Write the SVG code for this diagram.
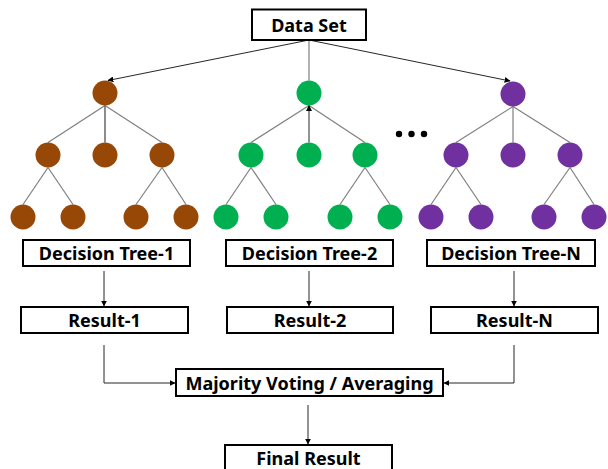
<svg xmlns="http://www.w3.org/2000/svg" width="608" height="469" viewBox="0 0 608 469">
<defs>
<style>
.box{fill:#fff;stroke:#000;stroke-width:2}
.lbl{font-family:"Noto Sans","Liberation Sans",sans-serif;font-weight:bold;font-size:18px;fill:#000;text-anchor:middle}
.edge{stroke:#7f7f7f;stroke-width:1.2;fill:none}
.arr{stroke:#262626;stroke-width:1;fill:none;marker-end:url(#ah)}
.br{fill:#974806}
.gr{fill:#00B050}
.pu{fill:#7030A0}
</style>
<marker id="ah" viewBox="0 0 10 10" refX="9" refY="5" markerUnits="userSpaceOnUse" markerWidth="6" markerHeight="6" orient="auto">
<path d="M0,0 L10,5 L0,10 z" fill="#000"/>
</marker>
</defs>
<rect width="608" height="469" fill="#fff"/>
<g id="connectors">
<line class="edge" x1="105" y1="105.5" x2="48" y2="142.5"/>
<line class="edge" x1="105" y1="105.5" x2="105" y2="142.5" style="stroke:#404040"/>
<line class="edge" x1="105" y1="105.5" x2="162" y2="142.5"/>
<line class="edge" x1="48" y1="167.5" x2="23" y2="204.5"/>
<line class="edge" x1="48" y1="167.5" x2="73" y2="204.5"/>
<line class="edge" x1="162" y1="167.5" x2="136" y2="204.5"/>
<line class="edge" x1="162" y1="167.5" x2="186" y2="204.5"/>
<line class="edge" x1="309" y1="105.5" x2="251" y2="142.5"/>
<line class="edge" x1="309" y1="105.5" x2="365" y2="142.5"/>
<line class="edge" x1="251" y1="167.5" x2="226" y2="204.5"/>
<line class="edge" x1="251" y1="167.5" x2="276" y2="204.5"/>
<line class="edge" x1="365" y1="167.5" x2="340" y2="204.5"/>
<line class="edge" x1="365" y1="167.5" x2="390" y2="204.5"/>
<line class="edge" x1="513" y1="106.5" x2="456" y2="142.5"/>
<line class="edge" x1="513" y1="106.5" x2="513" y2="142.5"/>
<line class="edge" x1="513" y1="106.5" x2="570" y2="142.5"/>
<line class="edge" x1="456" y1="167.5" x2="431" y2="204.5"/>
<line class="edge" x1="456" y1="167.5" x2="481" y2="204.5"/>
<line class="edge" x1="570" y1="167.5" x2="544" y2="204.5"/>
<line class="edge" x1="570" y1="167.5" x2="594" y2="204.5"/>
<line class="arr" x1="309" y1="40" x2="108" y2="80.5"/>
<line class="edge" x1="309" y1="40" x2="309" y2="80.5"/>
<line class="arr" x1="309" y1="40" x2="510" y2="81"/>
<line class="arr" x1="309" y1="142.5" x2="309" y2="105.5"/>
<line class="arr" x1="104" y1="271" x2="104" y2="306"/>
<line class="arr" x1="309" y1="271" x2="309" y2="306"/>
<line class="arr" x1="514" y1="271" x2="514" y2="306"/>
<polyline class="arr" points="104,345 104,383 175,383"/>
<polyline class="arr" points="514,345 514,383 444,383"/>
<line class="arr" x1="308" y1="405" x2="308" y2="444"/>
</g>
<g id="dataset"><rect class="box" x="252" y="9.5" width="114" height="30.5"/><text class="lbl" x="309" y="31.5">Data Set</text></g>
<g id="tree1">
<circle class="br" cx="105" cy="93" r="12.5"/>
<circle class="br" cx="48" cy="155" r="12.5"/>
<circle class="br" cx="105" cy="155" r="12.5"/>
<circle class="br" cx="162" cy="155" r="12.5"/>
<circle class="br" cx="23" cy="217" r="12.5"/>
<circle class="br" cx="73" cy="217" r="12.5"/>
<circle class="br" cx="136" cy="217" r="12.5"/>
<circle class="br" cx="186" cy="217" r="12.5"/>
</g>
<g id="tree2">
<circle class="gr" cx="309" cy="93" r="12.5"/>
<circle class="gr" cx="251" cy="155" r="12.5"/>
<circle class="gr" cx="309" cy="155" r="12.5"/>
<circle class="gr" cx="365" cy="155" r="12.5"/>
<circle class="gr" cx="226" cy="217" r="12.5"/>
<circle class="gr" cx="276" cy="217" r="12.5"/>
<circle class="gr" cx="340" cy="217" r="12.5"/>
<circle class="gr" cx="390" cy="217" r="12.5"/>
</g>
<g id="treeN">
<circle class="pu" cx="513" cy="94" r="12.5"/>
<circle class="pu" cx="456" cy="155" r="12.5"/>
<circle class="pu" cx="513" cy="155" r="12.5"/>
<circle class="pu" cx="570" cy="155" r="12.5"/>
<circle class="pu" cx="431" cy="217" r="12.5"/>
<circle class="pu" cx="481" cy="217" r="12.5"/>
<circle class="pu" cx="544" cy="217" r="12.5"/>
<circle class="pu" cx="594" cy="217" r="12.5"/>
</g>
<g id="ellipsis">
<circle cx="399" cy="134" r="3.2" fill="#000"/>
<circle cx="411.5" cy="134" r="3.2" fill="#000"/>
<circle cx="424" cy="134" r="3.2" fill="#000"/>
</g>
<g id="dt1"><rect class="box" x="23" y="240" width="167" height="26"/><text class="lbl" x="106.5" y="259.5">Decision Tree-1</text></g>
<g id="dt2"><rect class="box" x="226" y="240" width="167" height="26"/><text class="lbl" x="309.5" y="259.5">Decision Tree-2</text></g>
<g id="dtN"><rect class="box" x="427" y="240" width="168" height="26"/><text class="lbl" x="511" y="259.5">Decision Tree-N</text></g>
<g id="r1"><rect class="box" x="21" y="307" width="167" height="26"/><text class="lbl" x="104.5" y="326.5">Result-1</text></g>
<g id="r2"><rect class="box" x="227" y="307" width="166" height="26"/><text class="lbl" x="310" y="326.5">Result-2</text></g>
<g id="rN"><rect class="box" x="431" y="307" width="167" height="26"/><text class="lbl" x="514.5" y="326.5">Result-N</text></g>
<g id="vote"><rect class="box" x="176" y="369" width="267" height="27"/><text class="lbl" x="309.5" y="389.5">Majority Voting / Averaging</text></g>
<g id="final"><rect class="box" x="225" y="445" width="167" height="27"/><text class="lbl" x="308.5" y="464.5">Final Result</text></g>
</svg>
